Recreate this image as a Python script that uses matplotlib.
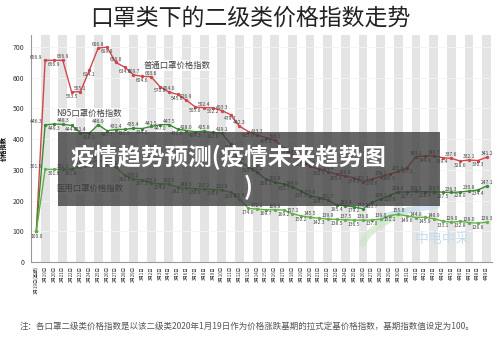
import numpy as np
import matplotlib
matplotlib.use('Agg')
import matplotlib.pyplot as plt
from matplotlib.patches import Rectangle

plt.rcParams['font.family'] = ['Noto Sans CJK SC', 'DejaVu Sans']

# x categories: base day, then daily from Feb 19 to Apr 9
dates = ['1月19日(基期)'] + ['2月%d日' % d for d in range(19, 30)] + \
        ['3月%d日' % d for d in range(1, 32)] + ['4月%d日' % d for d in range(1, 10)]

putong = [100.0, 656.9, 656.9, 656.9, 553.5, 555.1, 624.1, 696.8, 699.8, 650.0,
          634.9, 609.7, 604.6, 603.6, 570.8, 554.0, 545.6, 526.9, 505.0, 502.4,
          502.2, 493.3, 479.7, 442.3, 425.0, 413.2, 405.0, 396.1, 372.0, 348.0,
          329.1, 311.2, 302.5, 294.4, 285.4, 280.0, 274.0, 261.3, 270.0, 278.2,
          286.1, 295.0, 307.2, 343.1, 344.9, 346.7, 339.4, 337.6, 328.6, 332.1,
          330.3, 341.2]
n95 = [100.0, 446.3, 449.3, 448.3, 444.8, 421.4, 418.5, 446.9, 427.7, 431.4,
       431.9, 435.4, 434.5, 441.5, 447.0, 447.5, 432.8, 428.0, 424.3, 425.8,
       422.0, 419.1, 385.0, 327.0, 310.0, 292.2, 269.1, 260.0, 253.7, 244.9,
       230.1, 215.0, 209.7, 201.7, 185.4, 183.4, 179.2, 173.1, 193.7, 204.7,
       216.6, 228.0, 227.7, 229.9, 228.4, 228.5, 227.5, 226.3, 228.0, 230.8,
       234.4, 247.1]
yiyong = [100.0, 301.5, 301.6, 301.5, 301.8, 310.5, 325.0, 330.5, 328.0, 308.2,
          282.6, 270.2, 267.3, 255.9, 254.8, 253.5, 242.7, 240.3, 239.0, 237.2,
          236.0, 233.9, 226.4, 206.4, 174.6, 172.1, 169.7, 169.9, 169.2, 157.1,
          150.2, 145.5, 142.3, 139.9, 138.5, 137.5, 136.5, 136.0, 137.0, 139.0,
          151.1, 155.0, 149.6, 144.8, 145.9, 140.9, 133.1, 129.0, 132.8, 128.0,
          126.6, 129.3]

x = np.arange(len(dates))
ymax = 740

fig = plt.figure(figsize=(5, 3.38), dpi=100)
ax = fig.add_axes([0.062, 0.225, 0.922, 0.672])
ax.set_xlim(-0.6, len(dates) - 0.4)
ax.set_ylim(0, ymax)

# alternating gray column background
ax.bar(x[1::2], ymax, width=1.0, color='#e4e4e4', zorder=0)
for yv in range(100, 800, 100):
    ax.axhline(yv, color='#f4f4f4', lw=0.6, zorder=0.5)

lines = [(putong, '#d0464a'), (n95, '#3a8a34'), (yiyong, '#62b04a')]
for series, c in lines:
    ax.plot(x, series, color=c, lw=1.0, marker='o', ms=1.4, zorder=3)

# value labels, alternating above/below; base value shown once
ax.text(0, 100 - 16, '100.0', fontsize=3.6, color='#444444', ha='center',
        va='center', zorder=4)
for series, c in lines:
    ax.text(1 - 0.35, series[1] + 10, '%.1f' % series[1], fontsize=3.6,
            color='#444444', ha='right', va='center', zorder=4)
    for i in range(2, len(series)):
        v = series[i]
        off = 11 if i % 2 else -13
        ax.text(i, v + off, '%.1f' % v, fontsize=3.6, color='#444444',
                ha='center', va='center', zorder=4)

box = dict(fc='white', ec='none', alpha=0.75, pad=0.6)
ax.text(16, 640, '普通口罩价格指数', fontsize=6, color='#444444', ha='center',
        va='center', bbox=box, zorder=5)
ax.text(6, 485, 'N95口罩价格指数', fontsize=6, color='#444444', ha='center',
        va='center', bbox=box, zorder=5)
ax.text(6, 240, '医用口罩价格指数', fontsize=6, color='#444444', ha='center',
        va='center', bbox=box, zorder=5)

ax.set_yticks(range(0, 800, 100))
ax.tick_params(axis='y', labelsize=5, length=0, pad=5, colors='#333333')
ax.set_xticks(x)
ax.set_xticklabels(dates, rotation=90, fontsize=3.2)
ax.tick_params(axis='x', length=0, pad=3, colors='#333333')
for s in ('top', 'right'):
    ax.spines[s].set_visible(False)
ax.spines['left'].set_color('#999999')
ax.spines['bottom'].set_color('#999999')
ax.set_ylabel('价格指数', fontsize=4.5, fontweight='bold', labelpad=4)

# faint logo watermark: two swooshes and the name
t = np.linspace(0, 1, 30)
ax.plot(0.72 + 0.10 * t, 0.08 + 0.15 * t ** 0.6, transform=ax.transAxes,
        color='#cde6c4', lw=5, alpha=0.7, solid_capstyle='round', zorder=1.5)
ax.plot(0.76 + 0.12 * t, 0.185 + 0.06 * t ** 0.5, transform=ax.transAxes,
        color='#c9def0', lw=4, alpha=0.7, solid_capstyle='round', zorder=1.5)
ax.text(46, 75, '中电中采', fontsize=10, color='#c7dcec', ha='center',
        va='center', zorder=2)

fig.text(0.5, 0.945, '口罩类下的二级类价格指数走势', fontsize=16.5, color='#222222',
         ha='center', va='center')
fig.text(0.04, 0.035, '注：各口罩二级类价格指数是以该二级类2020年1月19日作为价格涨跌基期的拉式定基价格指数，基期指数值设定为100。',
         fontsize=6.1, color='#555555', ha='left', va='center')

# dark banner with headline
fig.patches.append(Rectangle((0.116, 0.39), 0.764, 0.218, transform=fig.transFigure,
                             facecolor='#3c3c3c', alpha=0.78, zorder=10))
fig.text(0.14, 0.535, '疫情趋势预测(疫情未来趋势图', fontsize=17, fontweight='bold',
         color='white', ha='left', va='center', zorder=11)
fig.text(0.497, 0.445, ')', fontsize=17, fontweight='bold', color='white',
         ha='center', va='center', zorder=11)

fig.savefig('out.png', dpi=100)
